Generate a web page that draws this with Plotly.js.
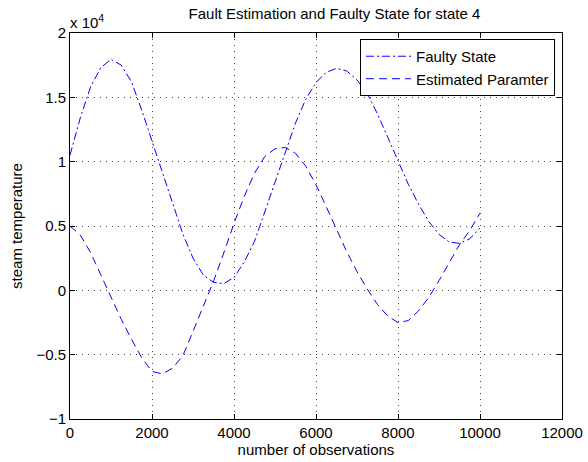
<!DOCTYPE html>
<html>
<head>
<meta charset="utf-8">
<script src="https://cdn.plot.ly/plotly-3.0.1.min.js"></script>
<style>
html,body{margin:0;padding:0;background:#fff;}
#chart{width:588px;height:462px;}
</style>
</head>
<body>
<div id="chart"></div>
<script>
// Observation index (x)
var observations = [0,250,500,750,1000,1250,1500,1750,2000,2250,2500,2750,3000,3250,3500,3750,4000,4250,4500,4750,5000,5250,5500,5750,6000,6250,6500,6750,7000,7250,7500,7750,8000,8250,8500,8750,9000,9250,9500,9750,10000];
// Faulty State series
var faultyState = [10500,13400,15800,17300,17950,17500,16200,14000,11600,9200,6900,4400,2500,1200,620,520,1000,2200,3800,6100,8450,10800,13000,14850,16150,16950,17250,17050,16350,15300,13700,11900,10050,8250,6700,5350,4350,3750,3650,4000,4850];
// Estimated Parameter series
var estimatedParam = [5000,4300,2950,1200,-500,-2250,-3800,-5250,-6300,-6500,-6050,-5100,-3200,-1300,700,2900,5200,7300,9100,10400,11000,11100,10650,9650,8200,6500,4750,3000,1450,100,-1100,-2000,-2500,-2350,-1600,-550,750,2150,3550,4650,6000];
// Tick labels
var xTickVals = [0,2000,4000,6000,8000,10000,12000];
var xTickText = ['0','2000','4000','6000','8000','10000','12000'];
var yTickVals = [-10000,-5000,0,5000,10000,15000,20000];
var yTickText = ['\u22121','\u22120.5','0','0.5','1','1.5','2'];

var FONT = 'Liberation Sans, Arial, Helvetica, sans-serif';
var FS = 15;

var traces = [
  {x: observations, y: faultyState, type: 'scatter', mode: 'lines', name: 'Faulty State',
   line: {color: '#0000ff', width: 1, dash: '8px,3px,2px,3px'}},
  {x: observations, y: estimatedParam, type: 'scatter', mode: 'lines', name: 'Estimated Paramter',
   line: {color: '#0000ff', width: 1, dash: '8px,5px'}}
];

var axisCommon = {
  showline: true, linecolor: '#000', linewidth: 1, mirror: 'ticks',
  ticks: 'inside', ticklen: 5, tickcolor: '#000', tickwidth: 1,
  showgrid: true, gridcolor: '#444', gridwidth: 1, griddash: '1px,5px',
  zeroline: false, tickfont: {family: FONT, size: FS, color: '#000'},
  fixedrange: true
};

var layout = {
  width: 588, height: 462,
  margin: {l: 70, r: 26, t: 33, b: 43, pad: 0},
  paper_bgcolor: '#fff', plot_bgcolor: '#fff',
  font: {family: FONT, size: FS, color: '#000'},
  title: {text: 'Fault Estimation and Faulty State for state 4', font: {family: FONT, size: FS, color: '#000'},
          x: 0.5375, xref: 'paper', xanchor: 'center', y: 0.971, yref: 'container', yanchor: 'middle'},
  xaxis: Object.assign({}, axisCommon, {
    range: [0, 12000], tickmode: 'array', tickvals: xTickVals, ticktext: xTickText,
    title: {text: 'number of observations', font: {family: FONT, size: FS, color: '#000'}, standoff: 4}
  }),
  yaxis: Object.assign({}, axisCommon, {
    range: [-10000, 20000], tickmode: 'array', tickvals: yTickVals, ticktext: yTickText,
    title: {text: 'steam temperature', font: {family: FONT, size: FS, color: '#000'}, standoff: 10}
  }),
  showlegend: true,
  legend: {x: 0.9858, y: 0.9845, xanchor: 'right', yanchor: 'top', bgcolor: '#fff',
           bordercolor: '#000', borderwidth: 1, font: {family: FONT, size: FS, color: '#000'},
           itemwidth: 45, tracegroupgap: 0},
  annotations: [{
    text: 'x 10<sup>4</sup>', xref: 'paper', yref: 'paper', x: 0, y: 1, xanchor: 'left', yanchor: 'bottom',
    showarrow: false, font: {family: FONT, size: FS, color: '#000'}, xshift: -2, yshift: 0
  }]
};

Plotly.newPlot('chart', traces, layout, {displayModeBar: false, staticPlot: true});
</script>
</body>
</html>
